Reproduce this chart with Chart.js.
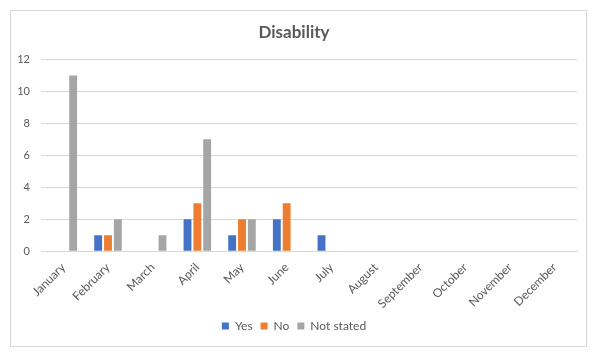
<!DOCTYPE html>
<html>
<head>
<meta charset="utf-8">
<script src="https://cdn.jsdelivr.net/npm/chart.js@4"></script>
<style>
  body { margin: 0; background: #fff; }
  #box {
    position: absolute; left: 10px; top: 10px;
    width: 577px; height: 337px;
    border: 1px solid #d9d9d9; box-sizing: border-box;
  }
</style>
</head>
<body>
<div id="box"><canvas id="chart"></canvas></div>
<script>
const months = ['January', 'February', 'March', 'April', 'May', 'June', 'July',
  'August', 'September', 'October', 'November', 'December'];
const yesValues = [0, 1, 0, 2, 1, 2, 1, 0, 0, 0, 0, 0];
const noValues = [0, 1, 0, 3, 2, 3, 0, 0, 0, 0, 0, 0];
const notStatedValues = [11, 2, 1, 7, 2, 0, 0, 0, 0, 0, 0, 0];
const yTicks = [0, 2, 4, 6, 8, 10, 12];

const textColor = '#595959';
const fontFamily = 'Lato, "Open Sans", sans-serif';

function makeSet(label, data, color) {
    return {
        label: label,
        data: data,
        backgroundColor: color,
        categoryPercentage: 0.66,
        barPercentage: 0.8
    };
}

new Chart(document.getElementById('chart'), {
    type: 'bar',
    data: {
        labels: months,
        datasets: [
            makeSet('Yes', yesValues, '#4472c4'),
            makeSet('No', noValues, '#ed7d31'),
            makeSet('Not stated', notStatedValues, '#a5a5a5')
        ]
    },
    options: {
        responsive: true,
        maintainAspectRatio: false,
        animation: false,
        layout: { padding: { left: 0, right: 9, top: 7, bottom: 4 } },
        plugins: {
            title: {
                display: true,
                text: 'Disability',
                color: textColor,
                font: { family: fontFamily, size: 17, weight: 'bold' },
                padding: { top: 4, bottom: 17 }
            },
            legend: {
                position: 'bottom',
                labels: {
                    color: textColor,
                    font: { family: fontFamily, size: 12 },
                    boxWidth: 7,
                    boxHeight: 7,
                    padding: 8
                }
            },
            tooltip: { enabled: false }
        },
        scales: {
            x: {
                grid: { display: false },
                border: { color: '#d9d9d9' },
                ticks: {
                    color: textColor,
                    font: { family: fontFamily, size: 12 },
                    minRotation: 45,
                    maxRotation: 45,
                    padding: 1
                }
            },
            y: {
                min: 0,
                max: 12,
                afterBuildTicks: axis => { axis.ticks = yTicks.map(v => ({ value: v })); },
                afterFit: axis => { axis.width = 30; },
                grid: { color: '#d9d9d9', drawTicks: false },
                border: { display: false },
                ticks: {
                    color: textColor,
                    font: { family: fontFamily, size: 11 },
                    padding: 11
                }
            }
        }
    }
});
</script>
</body>
</html>
